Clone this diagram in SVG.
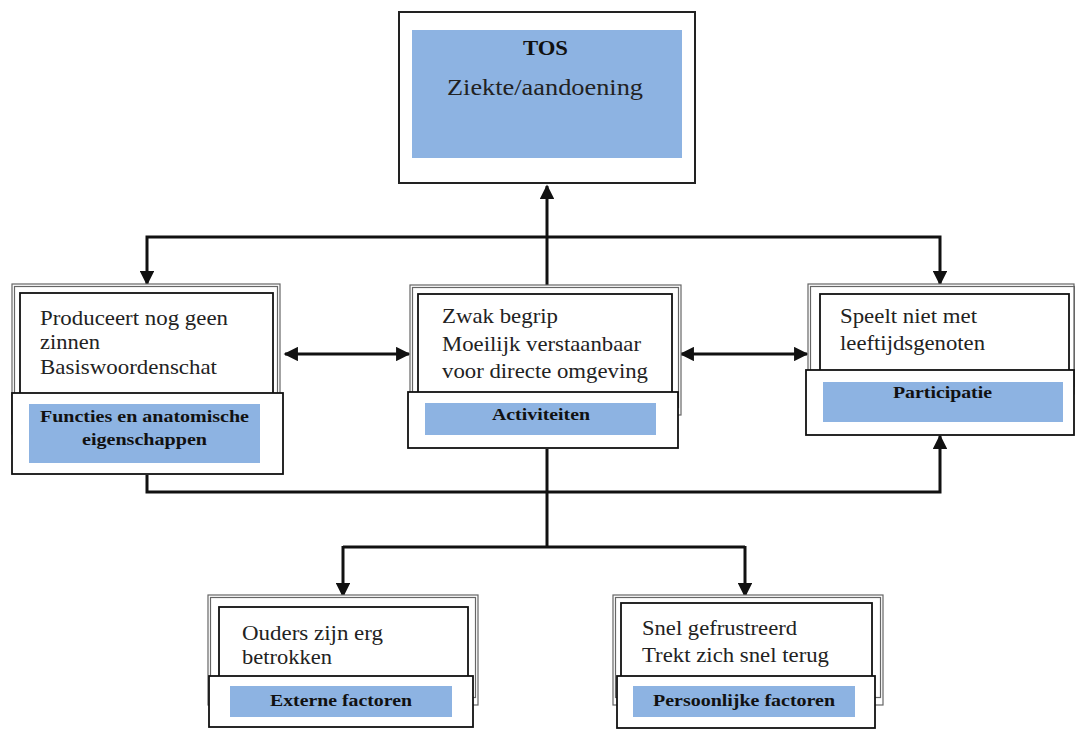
<svg xmlns="http://www.w3.org/2000/svg" width="1075" height="731" viewBox="0 0 1075 731">
<style>
.outer{fill:#fff;stroke:#666;stroke-width:1.2}
.outer2{fill:none;stroke:#666;stroke-width:1.2}
.inner{fill:#fff;stroke:#111;stroke-width:1.8}
.lab{fill:#fff;stroke:#111;stroke-width:1.8}
.blue{fill:#8db3e2;stroke:none}
text{font-family:"Liberation Serif","Times New Roman","DejaVu Serif",serif}
.t{font-size:21px;fill:#222}
.b{font-size:16.5px;font-weight:bold;fill:#111}
.con{fill:none;stroke:#111;stroke-width:3}
</style>
<defs>
<marker id="ah" viewBox="0 0 10 10" refX="9" refY="5" markerWidth="5" markerHeight="4.8" orient="auto-start-reverse" markerUnits="strokeWidth">
<path d="M0,0 L10,5 L0,10 z" fill="#111"/>
</marker>
</defs>
<g id="connectors">
<path class="con" d="M547,290 V186" marker-end="url(#ah)"/>
<path class="con" d="M147,284 V237 H940 V284" marker-start="url(#ah)" marker-end="url(#ah)"/>
<path class="con" d="M285,354 H409" marker-start="url(#ah)" marker-end="url(#ah)"/>
<path class="con" d="M681,354 H807" marker-start="url(#ah)" marker-end="url(#ah)"/>
<path class="con" d="M147,475 V492 H940 V436" marker-end="url(#ah)"/>
<path class="con" d="M547,449 V547"/>
<path class="con" d="M343,547 H745"/>
<path class="con" d="M343,546 V596" marker-end="url(#ah)"/>
<path class="con" d="M745,546 V596" marker-end="url(#ah)"/>
</g>
<g id="tos">
<rect x="399" y="12" width="296" height="171" fill="#fff" stroke="#222" stroke-width="2"/>
<rect class="blue" x="412" y="30" width="270" height="128"/>
<text x="523" y="55" font-size="20" font-weight="bold" fill="#111" textLength="45" lengthAdjust="spacingAndGlyphs">TOS</text>
<text x="447" y="95" font-size="23" fill="#222" textLength="196" lengthAdjust="spacingAndGlyphs">Ziekte/aandoening</text>
</g>
<g id="functies">
<rect class="outer" x="12" y="284" width="268" height="150"/>
<rect class="outer2" x="14.5" y="286.5" width="263" height="140"/>
<rect class="inner" x="20" y="293" width="253" height="110"/>
<text class="t" x="40" y="325" textLength="188" lengthAdjust="spacingAndGlyphs">Produceert nog geen</text>
<text class="t" x="40" y="349" textLength="60" lengthAdjust="spacingAndGlyphs">zinnen</text>
<text class="t" x="40" y="374" textLength="177" lengthAdjust="spacingAndGlyphs">Basiswoordenschat</text>
<rect class="lab" x="12" y="393" width="271" height="81"/>
<rect class="blue" x="29" y="404" width="231" height="59"/>
<text class="b" x="40" y="422" textLength="209" lengthAdjust="spacingAndGlyphs">Functies en anatomische</text>
<text class="b" x="82" y="445" textLength="125" lengthAdjust="spacingAndGlyphs">eigenschappen</text>
</g>
<g id="activiteiten">
<rect class="outer" x="410" y="285" width="271" height="130"/>
<rect class="outer2" x="412.5" y="287.5" width="266" height="120"/>
<rect class="inner" x="418" y="294" width="254" height="100"/>
<text class="t" x="442" y="323" textLength="116" lengthAdjust="spacingAndGlyphs">Zwak begrip</text>
<text class="t" x="442" y="351" textLength="199" lengthAdjust="spacingAndGlyphs">Moeilijk verstaanbaar</text>
<text class="t" x="442" y="378" textLength="206" lengthAdjust="spacingAndGlyphs">voor directe omgeving</text>
<rect class="lab" x="408" y="392" width="270" height="56"/>
<rect class="blue" x="425" y="403" width="231" height="32"/>
<text class="b" x="492" y="420" textLength="98" lengthAdjust="spacingAndGlyphs">Activiteiten</text>
</g>
<g id="participatie">
<rect class="outer" x="808" y="284" width="266" height="110"/>
<rect class="outer2" x="810.5" y="286.5" width="264" height="100"/>
<rect class="inner" x="820" y="294" width="249" height="80"/>
<text class="t" x="840" y="323" textLength="137" lengthAdjust="spacingAndGlyphs">Speelt niet met</text>
<text class="t" x="840" y="350" textLength="145" lengthAdjust="spacingAndGlyphs">leeftijdsgenoten</text>
<rect class="lab" x="806" y="370" width="268" height="65"/>
<rect class="blue" x="823" y="382" width="240" height="40"/>
<text class="b" x="893" y="398" textLength="99" lengthAdjust="spacingAndGlyphs">Participatie</text>
</g>
<g id="externe">
<rect class="outer" x="208" y="595" width="270" height="110"/>
<rect class="outer2" x="210.5" y="597.5" width="265" height="100"/>
<rect class="inner" x="219" y="607" width="249" height="80"/>
<text class="t" x="242" y="640" textLength="141" lengthAdjust="spacingAndGlyphs">Ouders zijn erg</text>
<text class="t" x="242" y="664" textLength="90" lengthAdjust="spacingAndGlyphs">betrokken</text>
<rect class="lab" x="209" y="676" width="264" height="51"/>
<rect class="blue" x="230" y="686" width="222" height="31"/>
<text class="b" x="270" y="706" textLength="142" lengthAdjust="spacingAndGlyphs">Externe factoren</text>
</g>
<g id="persoonlijk">
<rect class="outer" x="613" y="595" width="270" height="110"/>
<rect class="outer2" x="615.5" y="597.5" width="265" height="100"/>
<rect class="inner" x="621" y="603" width="251" height="84"/>
<text class="t" x="642" y="635" textLength="155" lengthAdjust="spacingAndGlyphs">Snel gefrustreerd</text>
<text class="t" x="642" y="662" textLength="187" lengthAdjust="spacingAndGlyphs">Trekt zich snel terug</text>
<rect class="lab" x="617" y="676" width="258" height="52"/>
<rect class="blue" x="633" y="686" width="222" height="31"/>
<text class="b" x="653" y="706" textLength="182" lengthAdjust="spacingAndGlyphs">Persoonlijke factoren</text>
</g>
</svg>
